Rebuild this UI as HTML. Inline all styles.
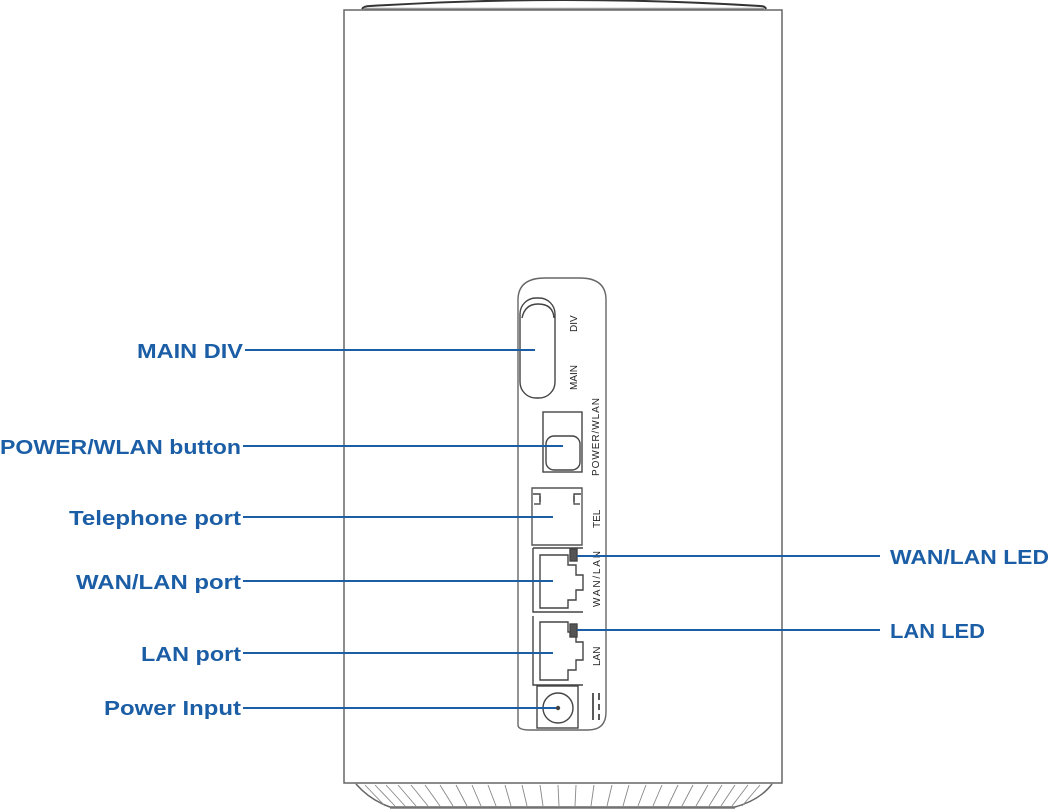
<!DOCTYPE html>
<html><head><style>html,body{margin:0;padding:0;background:#fff}svg{display:block}</style></head>
<body>
<svg width="1050" height="811" viewBox="0 0 1050 811" xmlns="http://www.w3.org/2000/svg">
<g fill="none" stroke="#555" stroke-width="1.5">
<!-- top cap -->
<path d="M362 9 Q364 6 370 6 Q565 -6 760 6 Q765 6 766 9" stroke="#333" stroke-width="2"/>
<line x1="364" y1="9" x2="764" y2="9" stroke="#999" stroke-width="2.5"/>
<!-- body -->
<rect x="344" y="10" width="438" height="773" stroke="#666"/>
<!-- skirt -->
<path d="M356 784 Q370 800 390 807 L735 807 Q760 800 772 784" stroke="#666"/>
<line x1="390" y1="808" x2="735" y2="808" stroke="#777"/>
</g>
<g stroke="#888" stroke-width="0.9">
<line x1="365" y1="785" x2="385" y2="806"/><line x1="375" y1="785" x2="395" y2="806"/><line x1="386" y1="785" x2="405" y2="806"/><line x1="398" y1="785" x2="416" y2="806"/><line x1="411" y1="785" x2="428" y2="806"/><line x1="425" y1="785" x2="440" y2="806"/><line x1="440" y1="785" x2="453" y2="806"/><line x1="456" y1="785" x2="467" y2="806"/><line x1="472" y1="785" x2="481" y2="806"/><line x1="488" y1="785" x2="496" y2="806"/><line x1="505" y1="785" x2="511" y2="806"/><line x1="522" y1="785" x2="527" y2="806"/><line x1="540" y1="785" x2="543" y2="806"/><line x1="558" y1="785" x2="559" y2="806"/><line x1="576" y1="785" x2="575" y2="806"/><line x1="594" y1="785" x2="591" y2="806"/><line x1="612" y1="785" x2="607" y2="806"/><line x1="629" y1="785" x2="623" y2="806"/><line x1="646" y1="785" x2="638" y2="806"/><line x1="662" y1="785" x2="653" y2="806"/><line x1="678" y1="785" x2="668" y2="806"/><line x1="693" y1="785" x2="682" y2="806"/><line x1="708" y1="785" x2="696" y2="806"/><line x1="722" y1="785" x2="709" y2="806"/><line x1="735" y1="785" x2="721" y2="806"/><line x1="748" y1="785" x2="732" y2="806"/><line x1="760" y1="785" x2="742" y2="806"/>
</g>
<g fill="none" stroke="#444" stroke-width="1.4">
<!-- panel -->
<path d="M518 725 L518 300 Q518 278 545 278 L580 278 Q606 278 606 300 L606 712 Q606 730 588 730 L530 730 Q518 730 518 725 Z" stroke="#666"/>
<!-- antenna -->
<rect x="520" y="298" width="35" height="100" rx="16"/>
<path d="M522 318 Q525 304 538 304 Q553 304 554 318"/>
<!-- power button -->
<rect x="543" y="412" width="39" height="60"/>
<rect x="546" y="436" width="34" height="34" rx="8"/>
<!-- TEL -->
<path d="M532 488 L582 488 L582 545 L532 545 Z M540 496 L540 504 L534 504 M574 496 L574 504 L580 504" stroke="#555"/>
<path d="M533 494 L540 494 L540 502 M581 494 L574 494 L574 502"/>
<!-- WAN/LAN port -->
<path d="M533 548 L583 548 M533 548 L533 612 L583 612"/>
<path d="M540 555 L568 555 L568 565 L576 565 L576 575 L583 575 L583 590 L576 590 L576 600 L568 600 L568 608 L540 608 Z"/>
<rect x="570" y="549" width="7" height="12" fill="#555"/>
<!-- LAN port -->
<path d="M533 616 L533 685 L583 685"/>
<path d="M540 622 L568 622 L568 632 L576 632 L576 642 L583 642 L583 660 L576 660 L576 670 L568 670 L568 680 L540 680 Z"/>
<rect x="570" y="624" width="7" height="13" fill="#555"/>
<!-- power input -->
<rect x="537" y="686" width="41" height="42"/>
<circle cx="558" cy="708" r="15"/>
<circle cx="558" cy="708" r="1.5" fill="#444"/>
</g>
<g font-family="Liberation Sans, sans-serif" font-size="10" fill="#222">
<text transform="translate(577,332) rotate(-90)">DIV</text>
<text transform="translate(577,390) rotate(-90)">MAIN</text>
<text transform="translate(599,476) rotate(-90)" textLength="78">POWER/WLAN</text>
<text transform="translate(600,528) rotate(-90)">TEL</text>
<text transform="translate(600,607) rotate(-90)" textLength="56">WAN/LAN</text>
<text transform="translate(600,666) rotate(-90)">LAN</text>
</g>
<g stroke="#222" stroke-width="1.5"><line x1="593" y1="693" x2="593" y2="720"/><line x1="599" y1="693" x2="599" y2="700"/><line x1="599" y1="704" x2="599" y2="710"/><line x1="599" y1="714" x2="599" y2="720"/></g>
<!-- connectors -->
<g stroke="#1b5ea6" stroke-width="2">
<line x1="245" y1="350" x2="535" y2="350"/>
<line x1="243" y1="446" x2="563" y2="446"/>
<line x1="243" y1="517" x2="553" y2="517"/>
<line x1="243" y1="581" x2="553" y2="581"/>
<line x1="243" y1="653" x2="553" y2="653"/>
<line x1="243" y1="708" x2="556" y2="708"/>
<line x1="577" y1="556" x2="880" y2="556"/>
<line x1="577" y1="630" x2="880" y2="630"/>
</g>
<g font-family="Liberation Sans, sans-serif" font-size="20" font-weight="bold" fill="#1b5ea6" text-anchor="end">
<text x="243" y="358" textLength="106" lengthAdjust="spacingAndGlyphs">MAIN DIV</text>
<text x="241" y="454" textLength="241" lengthAdjust="spacingAndGlyphs">POWER/WLAN button</text>
<text x="241" y="525" textLength="172" lengthAdjust="spacingAndGlyphs">Telephone port</text>
<text x="241" y="589" textLength="165" lengthAdjust="spacingAndGlyphs">WAN/LAN port</text>
<text x="241" y="661" textLength="100" lengthAdjust="spacingAndGlyphs">LAN port</text>
<text x="241" y="715" textLength="137" lengthAdjust="spacingAndGlyphs">Power Input</text>
</g>
<g font-family="Liberation Sans, sans-serif" font-size="20" font-weight="bold" fill="#1b5ea6">
<text x="890" y="564" textLength="159" lengthAdjust="spacingAndGlyphs">WAN/LAN LED</text>
<text x="890" y="638" textLength="95" lengthAdjust="spacingAndGlyphs">LAN LED</text>
</g>
</svg>
</body></html>
